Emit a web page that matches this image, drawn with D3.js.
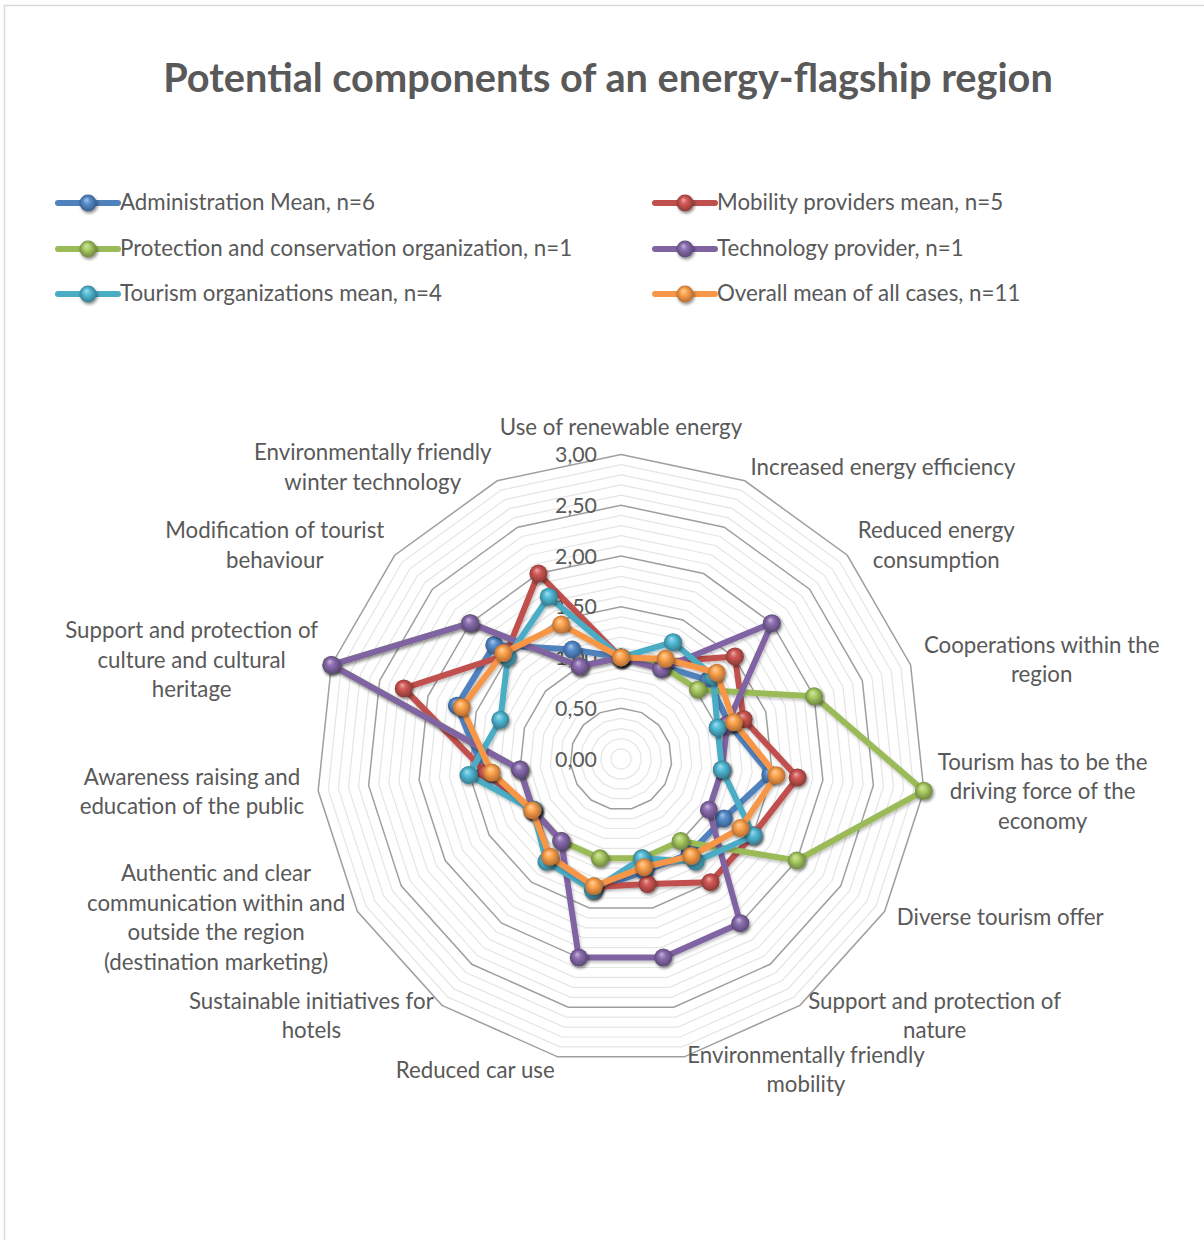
<!DOCTYPE html>
<html>
<head>
<meta charset="utf-8">
<script src="https://cdn.jsdelivr.net/npm/d3@7"></script>
<style>
  html, body { margin: 0; padding: 0; background: #fff; }
  svg { display: block; }
  text { font-family: Lato, "Open Sans", "Liberation Sans", sans-serif; fill: #595959; }
</style>
</head>
<body>
<svg id="chart" width="1204" height="1240"></svg>
<script>
// ---------------- DATA ----------------
const title = "Potential components of an energy-flagship region";

const categories = [
  "Use of renewable energy",
  "Increased energy efficiency",
  "Reduced energy\nconsumption",
  "Cooperations within the\nregion",
  "Tourism has to be the\ndriving force of the\neconomy",
  "Diverse tourism offer",
  "Support and protection of\nnature",
  "Environmentally friendly\nmobility",
  "Reduced car use",
  "Sustainable initiatives for\nhotels",
  "Authentic and clear\ncommunication within and\noutside the region\n(destination marketing)",
  "Awareness raising and\neducation of the public",
  "Support and protection of\nculture and cultural\nheritage",
  "Modification of tourist\nbehaviour",
  "Environmentally friendly\nwinter technology"
];

const seriesNames = [
  "Administration Mean, n=6",
  "Mobility providers mean, n=5",
  "Protection and conservation organization, n=1",
  "Technology provider, n=1",
  "Tourism organizations mean, n=4",
  "Overall mean of all cases, n=11"
];

const administration = [1.00, 1.00, 1.16, 1.12, 1.48, 1.17, 1.15, 1.13, 1.32, 1.20, 1.00, 1.35, 1.70, 1.68, 1.18];
const mobility       = [1.00, 1.05, 1.51, 1.27, 1.75, 1.50, 1.50, 1.26, 1.29, 1.20, 1.00, 1.33, 2.25, 1.53, 2.00];
const protection     = [1.00, 1.00, 1.02, 2.00, 3.00, 2.00, 1.00, 1.00, 1.00, 1.00, 1.00, 1.00, 3.00, 2.00, 1.00];
const technology     = [1.00, 0.97, 2.00, 1.10, 1.00, 1.00, 2.00, 2.00, 2.00, 1.00, 1.00, 1.00, 3.00, 2.00, 1.00];
const tourism        = [1.00, 1.26, 1.22, 1.00, 1.00, 1.51, 1.25, 1.00, 1.32, 1.25, 1.00, 1.51, 1.25, 1.50, 1.75];
const overall        = [1.00, 1.08, 1.27, 1.17, 1.54, 1.36, 1.18, 1.09, 1.28, 1.19, 1.01, 1.28, 1.65, 1.56, 1.45];

const seriesValues = [administration, mobility, protection, technology, tourism, overall];
const seriesColors = ["#4F81BD", "#C0504D", "#9BBB59", "#8064A2", "#4BACC6", "#F79646"];

const tickValues = [0, 0.5, 1, 1.5, 2, 2.5, 3];
const tickLabels = ["0,00", "0,50", "1,00", "1,50", "2,00", "2,50", "3,00"];

// ---------------- LAYOUT ----------------
const W = 1204, H = 1240;
const cx = 621, cy = 759, R = 304.5;
const n = categories.length;
const svg = d3.select("#chart");

// font fitting helper
function measure(txt, size, weight) {
  const t = svg.append("text").attr("font-size", size).attr("font-weight", weight || "normal").text(txt);
  const w = t.node().getComputedTextLength();
  t.remove();
  return w;
}
const labelSize = 20 * 207 / measure("Diverse tourism offer", 20);
const legendSize = 20 * 255 / measure("Administration Mean, n=6", 20);
const titleSize = 36 * 890 / measure(title, 36, "bold");
const tickSize = 20 * 42 / measure("3,00", 20);
const dy = -1.5; // small vertical text nudge

// frame
svg.append("rect").attr("x", 4.5).attr("y", 5.5).attr("width", W).attr("height", H)
  .attr("fill", "#fff").attr("stroke", "#d9d9d9").attr("stroke-width", 1.5);

// defs
const defs = svg.append("defs");
const f = defs.append("filter").attr("id", "shadow").attr("x", "-50%").attr("y", "-50%").attr("width", "200%").attr("height", "200%");
f.append("feDropShadow").attr("dx", 1.2).attr("dy", 2).attr("stdDeviation", 1.6).attr("flood-color", "#000").attr("flood-opacity", 0.45);
const fl = defs.append("filter").attr("id", "lshadow").attr("x", "-10%").attr("y", "-10%").attr("width", "120%").attr("height", "120%");
fl.append("feDropShadow").attr("dx", 1).attr("dy", 2).attr("stdDeviation", 1.5).attr("flood-color", "#000").attr("flood-opacity", 0.25);

seriesColors.forEach((c, i) => {
  const base = d3.color(c);
  const g = defs.append("radialGradient").attr("id", "sph" + i)
    .attr("cx", "50%").attr("cy", "50%").attr("r", "55%").attr("fx", "40%").attr("fy", "30%");
  g.append("stop").attr("offset", "0%").attr("stop-color", d3.interpolateRgb(c, "#ffffff")(0.55));
  g.append("stop").attr("offset", "35%").attr("stop-color", base.brighter(0.3).formatHex());
  g.append("stop").attr("offset", "80%").attr("stop-color", base.darker(0.6).formatHex());
  g.append("stop").attr("offset", "100%").attr("stop-color", base.darker(1.1).formatHex());
});

// title
svg.append("text").attr("x", 608).attr("y", 76).attr("text-anchor", "middle")
  .attr("dominant-baseline", "central").attr("font-size", titleSize).attr("font-weight", "bold")
  .text(title);

// legend
const legendCols = [58, 655];
const legendRows = [203, 249, 294];
seriesNames.forEach((name, i) => {
  const x0 = legendCols[i % 2], y0 = legendRows[Math.floor(i / 2)];
  const g = svg.append("g");
  g.append("line").attr("x1", x0).attr("x2", x0 + 60).attr("y1", y0).attr("y2", y0)
    .attr("stroke", seriesColors[i]).attr("stroke-width", 6).attr("stroke-linecap", "round");
  g.append("circle").attr("cx", x0 + 30).attr("cy", y0).attr("r", 8.5)
    .attr("fill", `url(#sph${i})`).attr("filter", "url(#shadow)");
  g.append("text").attr("x", x0 + 62).attr("y", y0 + dy).attr("dominant-baseline", "central")
    .attr("font-size", legendSize).text(name);
});

// scales
const r = d3.scaleLinear().domain([0, 3]).range([0, R]);
const angle = d3.scaleLinear().domain([0, n]).range([0, 2 * Math.PI]);
const px = (i, v) => cx + r(v) * Math.sin(angle(i));
const py = (i, v) => cy - r(v) * Math.cos(angle(i));

const radial = d3.lineRadial()
  .angle((d, i) => angle(i))
  .radius(d => r(d))
  .curve(d3.curveLinearClosed);

const plot = svg.append("g").attr("transform", `translate(${cx},${cy})`);

// gridlines
const levels = d3.range(1, 31).map(k => k / 10);
levels.filter((v, k) => (k + 1) % 5 !== 0).forEach(v => {
  plot.append("path").attr("d", radial(d3.range(n).map(() => v)))
    .attr("fill", "none").attr("stroke", "#e5e5e5").attr("stroke-width", 1.2);
});
levels.filter((v, k) => (k + 1) % 5 === 0).forEach(v => {
  plot.append("path").attr("d", radial(d3.range(n).map(() => v)))
    .attr("fill", "none").attr("stroke", "#9f9f9f").attr("stroke-width", 1.5);
});

// tick labels
tickValues.forEach((v, i) => {
  svg.append("text").attr("x", cx - 24).attr("y", cy - r(v) + 1 + dy)
    .attr("text-anchor", "end").attr("dominant-baseline", "central")
    .attr("font-size", tickSize).text(tickLabels[i]);
});

// category labels
const lineH = 29.5;
categories.forEach((cat, i) => {
  const lines = cat.split("\n");
  const a = angle(i);
  const s = Math.sin(a), c = Math.cos(a);
  const qx = cx + (R + 14) * s;
  const qy = cy - (R + 14) * c;
  const widths = lines.map(l => measure(l, labelSize));
  const bw = d3.max(widths);
  const bh = lines.length * lineH;
  let centerX, centerY;
  if (Math.abs(s) < 0.05) {
    centerX = qx;
    centerY = c > 0 ? qy - bh / 2 + 2 : qy + bh / 2;
  } else {
    centerX = s > 0 ? qx + bw / 2 : qx - bw / 2;
    centerY = qy;
  }
  const t = svg.append("text").attr("text-anchor", "middle").attr("font-size", labelSize);
  lines.forEach((l, k) => {
    t.append("tspan").attr("x", centerX)
      .attr("y", centerY - bh / 2 + lineH * (k + 0.5) + dy)
      .attr("dominant-baseline", "central").text(l);
  });
});

// series
seriesValues.forEach((vals, si) => {
  const g = svg.append("g");
  g.append("path").attr("transform", `translate(${cx},${cy})`)
    .attr("d", radial(vals))
    .attr("fill", "none").attr("stroke", seriesColors[si]).attr("stroke-width", 6)
    .attr("stroke-linejoin", "round").attr("filter", "url(#lshadow)");
  g.selectAll("circle").data(vals).join("circle")
    .attr("cx", (d, i) => px(i, d)).attr("cy", (d, i) => py(i, d)).attr("r", 9)
    .attr("fill", `url(#sph${si})`).attr("filter", "url(#shadow)");
});
</script>
</body>
</html>
